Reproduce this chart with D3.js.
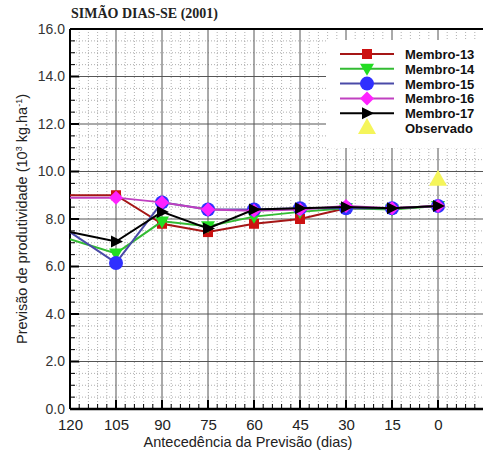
<!DOCTYPE html>
<html>
<head>
<meta charset="utf-8">
<script src="https://d3js.org/d3.v7.min.js"></script>
<style>
  body { margin: 0; background: #fff; }
  svg { display: block; font-family: Arial, "Liberation Sans", sans-serif; }
</style>
</head>
<body>
<div class="graph"></div>
<script>
// lead time in days (x axis runs 120 -> 0)
const leadDays = [120, 105, 90, 75, 60, 45, 30, 15, 0];
const membro13 = [9.0, 9.0, 7.8, 7.45, 7.8, 8.0, 8.45, 8.45, 8.55];
const membro14 = [7.15, 6.55, 7.9, 7.7, 8.1, 8.3, 8.45, 8.4, 8.55];
const membro15 = [7.45, 6.15, 8.7, 8.4, 8.4, 8.45, 8.45, 8.45, 8.55];
const membro16 = [8.9, 8.9, 8.7, 8.4, 8.35, 8.4, 8.55, 8.45, 8.55];
const membro17 = [7.45, 7.05, 8.3, 7.6, 8.4, 8.45, 8.5, 8.45, 8.55];
const observado = [{ dia: 0, valor: 9.65 }];
const yTicks = [0, 2, 4, 6, 8, 10, 12, 14, 16];

const series = [
  { name: 'Membro-13', values: membro13, line: '#a51616', fill: '#cc1111', symbol: 'square' },
  { name: 'Membro-14', values: membro14, line: '#33bb33', fill: '#22dd22', symbol: 'down' },
  { name: 'Membro-15', values: membro15, line: '#4a4aa8', fill: '#3030ff', symbol: 'circle' },
  { name: 'Membro-16', values: membro16, line: '#c040c0', fill: '#ff22ff', symbol: 'diamond' },
  { name: 'Membro-17', values: membro17, line: '#000000', fill: '#000000', symbol: 'right' }
];

const width = 483, height = 457;
const pLeft = 70, pRight = 484, pTop = 29, pBottom = 409;

const x = d3.scaleLinear().domain([120, -15]).range([pLeft, pRight]);
const y = d3.scaleLinear().domain([0, 16]).range([pBottom, pTop]);

const svg = d3.select('.graph').append('svg')
  .attr('width', width).attr('height', height);

// minor dotted grid
const minorX = d3.range(120, -15.1, -3).filter(d => d % 15 !== 0);
const minorY = d3.range(0, 16.01, 0.5).filter(d => d % 2 !== 0);
svg.append('g').selectAll('line').data(minorX).join('line')
  .attr('x1', d => x(d)).attr('x2', d => x(d))
  .attr('y1', pTop).attr('y2', pBottom)
  .attr('stroke', '#9a9a9a').attr('stroke-width', 0.8).attr('stroke-dasharray', '1,2');
svg.append('g').selectAll('line').data(minorY).join('line')
  .attr('x1', pLeft).attr('x2', pRight)
  .attr('y1', d => y(d)).attr('y2', d => y(d))
  .attr('stroke', '#9a9a9a').attr('stroke-width', 0.8).attr('stroke-dasharray', '1,2');

// major solid grid
svg.append('g').selectAll('line').data(leadDays.slice(1)).join('line')
  .attr('x1', d => x(d)).attr('x2', d => x(d))
  .attr('y1', pTop).attr('y2', pBottom)
  .attr('stroke', '#555').attr('stroke-width', 1);
svg.append('g').selectAll('line').data(yTicks.slice(1, -1)).join('line')
  .attr('x1', pLeft).attr('x2', pRight)
  .attr('y1', d => y(d)).attr('y2', d => y(d))
  .attr('stroke', '#555').attr('stroke-width', 1);

// axes
const yAxis = d3.axisLeft(y).tickValues(yTicks).tickFormat(d3.format('.1f')).tickSize(0).tickPadding(5);
svg.append('g').attr('transform', `translate(${pLeft},0)`).call(yAxis)
  .call(g => g.select('.domain').remove())
  .selectAll('text').attr('font-size', 14).attr('fill', '#333');

const xAxis = d3.axisBottom(x).tickValues(leadDays).tickSize(0).tickPadding(10);
svg.append('g').attr('transform', `translate(0,${pBottom})`).call(xAxis)
  .call(g => g.select('.domain').remove())
  .selectAll('text').attr('font-size', 15).attr('fill', '#222');

// inside ticks
svg.append('g').selectAll('line').data(d3.range(0, 16.01, 0.5)).join('line')
  .attr('x1', pLeft).attr('x2', d => pLeft + (d % 2 === 0 ? 9 : 5))
  .attr('y1', d => y(d)).attr('y2', d => y(d))
  .attr('stroke', '#000').attr('stroke-width', d => d % 2 === 0 ? 2 : 1);
svg.append('g').selectAll('line').data(d3.range(120, -15.1, -3)).join('line')
  .attr('x1', d => x(d)).attr('x2', d => x(d))
  .attr('y1', pBottom).attr('y2', d => pBottom - (d % 15 === 0 ? 9 : 5))
  .attr('stroke', '#000').attr('stroke-width', d => d % 15 === 0 ? 2 : 1);

svg.append('line').attr('x1', pLeft).attr('x2', pLeft).attr('y1', pTop).attr('y2', pBottom)
  .attr('stroke', '#000').attr('stroke-width', 2);
svg.append('line').attr('x1', pLeft).attr('x2', pRight).attr('y1', pBottom).attr('y2', pBottom)
  .attr('stroke', '#000').attr('stroke-width', 2.5);
svg.append('line').attr('x1', pLeft).attr('x2', pRight).attr('y1', pTop).attr('y2', pTop)
  .attr('stroke', '#000').attr('stroke-width', 2);

// markers
function drawMarker(g, kind, cx, cy, fill) {
  if (kind === 'square') {
    g.append('rect').attr('x', cx - 5).attr('y', cy - 5).attr('width', 10).attr('height', 10).attr('fill', fill);
  } else if (kind === 'circle') {
    g.append('circle').attr('cx', cx).attr('cy', cy).attr('r', 7).attr('fill', fill);
  } else if (kind === 'diamond') {
    g.append('path').attr('d', `M${cx},${cy - 7}L${cx + 7},${cy}L${cx},${cy + 7}L${cx - 7},${cy}Z`).attr('fill', fill);
  } else if (kind === 'down') {
    g.append('path').attr('d', `M${cx - 7},${cy - 5}L${cx + 7},${cy - 5}L${cx},${cy + 7}Z`).attr('fill', fill);
  } else if (kind === 'right') {
    g.append('path').attr('d', `M${cx - 5},${cy - 6}L${cx + 7},${cy}L${cx - 5},${cy + 6}Z`).attr('fill', fill);
  } else if (kind === 'up') {
    g.append('path').attr('d', `M${cx},${cy - 10}L${cx + 9},${cy + 6}L${cx - 9},${cy + 6}Z`).attr('fill', fill);
  }
}

const line = d3.line().x(d => x(d[0])).y(d => y(d[1]));
series.forEach(s => {
  const pts = leadDays.map((d, i) => [d, s.values[i]]);
  const g = svg.append('g');
  g.append('path').attr('d', line(pts)).attr('fill', 'none')
    .attr('stroke', s.line).attr('stroke-width', 2);
  pts.slice(1).forEach(p => drawMarker(g, s.symbol, x(p[0]), y(p[1]), s.fill));
});
observado.forEach(o => drawMarker(svg, 'up', x(o.dia), y(o.valor), '#f5f55a'));

// legend
const lg = svg.append('g');
lg.append('rect').attr('x', 326).attr('y', 40).attr('width', 160).attr('height', 108).attr('fill', '#fff');
const legendItems = series.concat([{ name: 'Observado', symbol: 'up', fill: '#f5f55a' }]);
legendItems.forEach((s, i) => {
  const ly = 54 + i * 14.8;
  if (s.line) {
    lg.append('line').attr('x1', 340).attr('x2', 394).attr('y1', ly).attr('y2', ly)
      .attr('stroke', s.line).attr('stroke-width', 2);
  }
  drawMarker(lg, s.symbol, 367, ly, s.fill);
  lg.append('text').attr('x', 405).attr('y', ly + 5).attr('font-size', 13)
    .attr('font-weight', 'bold').attr('fill', '#111').text(s.name);
});

// titles
svg.append('text').attr('x', 71).attr('y', 18)
  .attr('font-family', '"Liberation Serif", "DejaVu Serif", serif')
  .attr('font-weight', 'bold').attr('font-size', 14).attr('fill', '#222')
  .text('SIMÃO DIAS-SE (2001)');

svg.append('text').attr('x', 248).attr('y', 447).attr('text-anchor', 'middle')
  .attr('font-size', 14.5).attr('fill', '#222').text('Antecedência da Previsão (dias)');

const yl = svg.append('text').attr('transform', 'translate(27,219) rotate(-90)')
  .attr('text-anchor', 'middle').attr('font-size', 14.5).attr('fill', '#222');
yl.append('tspan').text('Previsão de produtividade (10');
yl.append('tspan').attr('font-size', 9).attr('dy', -5).text('3');
yl.append('tspan').attr('dy', 5).text(' kg.ha');
yl.append('tspan').attr('font-size', 9).attr('dy', -5).text('-1');
yl.append('tspan').attr('dy', 5).text(')');
</script>
</body>
</html>
